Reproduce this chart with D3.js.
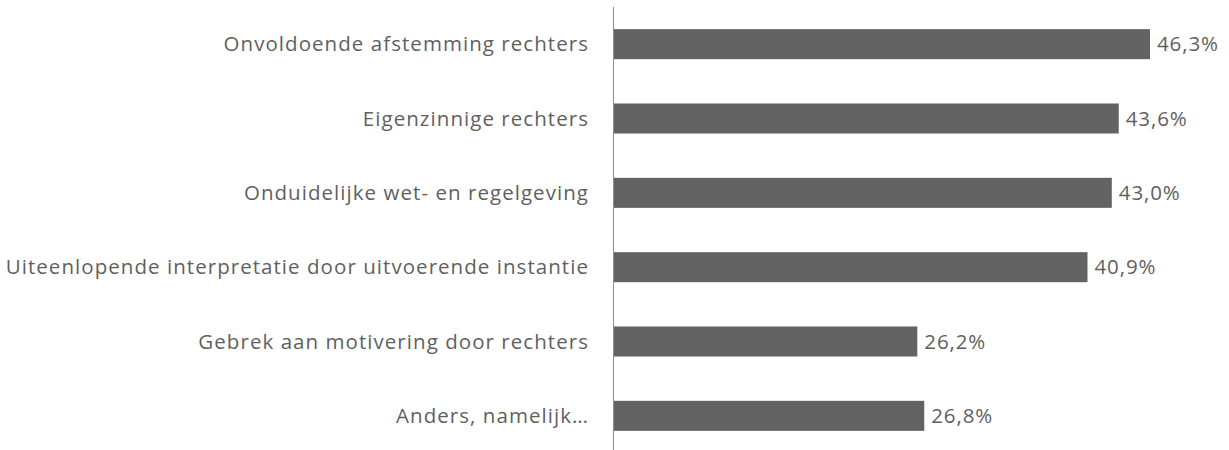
<!DOCTYPE html>
<html>
<head>
<meta charset="utf-8">
<script src="https://cdn.jsdelivr.net/npm/d3@7"></script>
<style>
  html, body { margin: 0; padding: 0; background: #ffffff; }
  svg text { font-family: "Open Sans", sans-serif; font-weight: 400; }
</style>
</head>
<body>
<svg id="chart" width="1229" height="450"></svg>
<script>
const categories = [
  "Onvoldoende afstemming rechters",
  "Eigenzinnige rechters",
  "Onduidelijke wet- en regelgeving",
  "Uiteenlopende interpretatie door uitvoerende instantie",
  "Gebrek aan motivering door rechters",
  "Anders, namelijk…"
];
const values = [46.3, 43.6, 43.0, 40.9, 26.2, 26.8];

const svg = d3.select("#chart");
const x0 = 614;

const x = d3.scaleLinear().domain([0, 46.3]).range([x0, x0 + 536]);
const y = d3.scaleBand().domain(categories).range([7, 453]).paddingInner(0.596).paddingOuter(0.298);

const fmt = v => d3.format(".1f")(v).replace(".", ",") + "%";

svg.selectAll("rect.bar").data(values).join("rect")
  .attr("class", "bar")
  .attr("x", x(0))
  .attr("y", (d, i) => y(categories[i]))
  .attr("width", d => x(d) - x(0))
  .attr("height", y.bandwidth())
  .attr("fill", "#636363");

// axis line
svg.append("line")
  .attr("x1", x0 - 0.5).attr("x2", x0 - 0.5)
  .attr("y1", 7).attr("y2", 450)
  .attr("stroke", "#8c8c8c").attr("stroke-width", 1);

svg.selectAll("text.cat").data(categories).join("text")
  .attr("class", "cat")
  .attr("x", 589)
  .attr("y", d => y(d) + y.bandwidth() / 2)
  .attr("dy", "0.35em")
  .attr("text-anchor", "end")
  .attr("font-size", 20.5)
  .attr("letter-spacing", 1.05)
  .attr("fill", "#5f5f5f")
  .text(d => d);

svg.selectAll("text.val").data(values).join("text")
  .attr("class", "val")
  .attr("x", d => x(d) + 7)
  .attr("y", (d, i) => y(categories[i]) + y.bandwidth() / 2)
  .attr("dy", "0.35em")
  .attr("font-size", 20.5)
  .attr("letter-spacing", 0.9)
  .attr("fill", "#5f5f5f")
  .text(d => fmt(d));
</script>
</body>
</html>
